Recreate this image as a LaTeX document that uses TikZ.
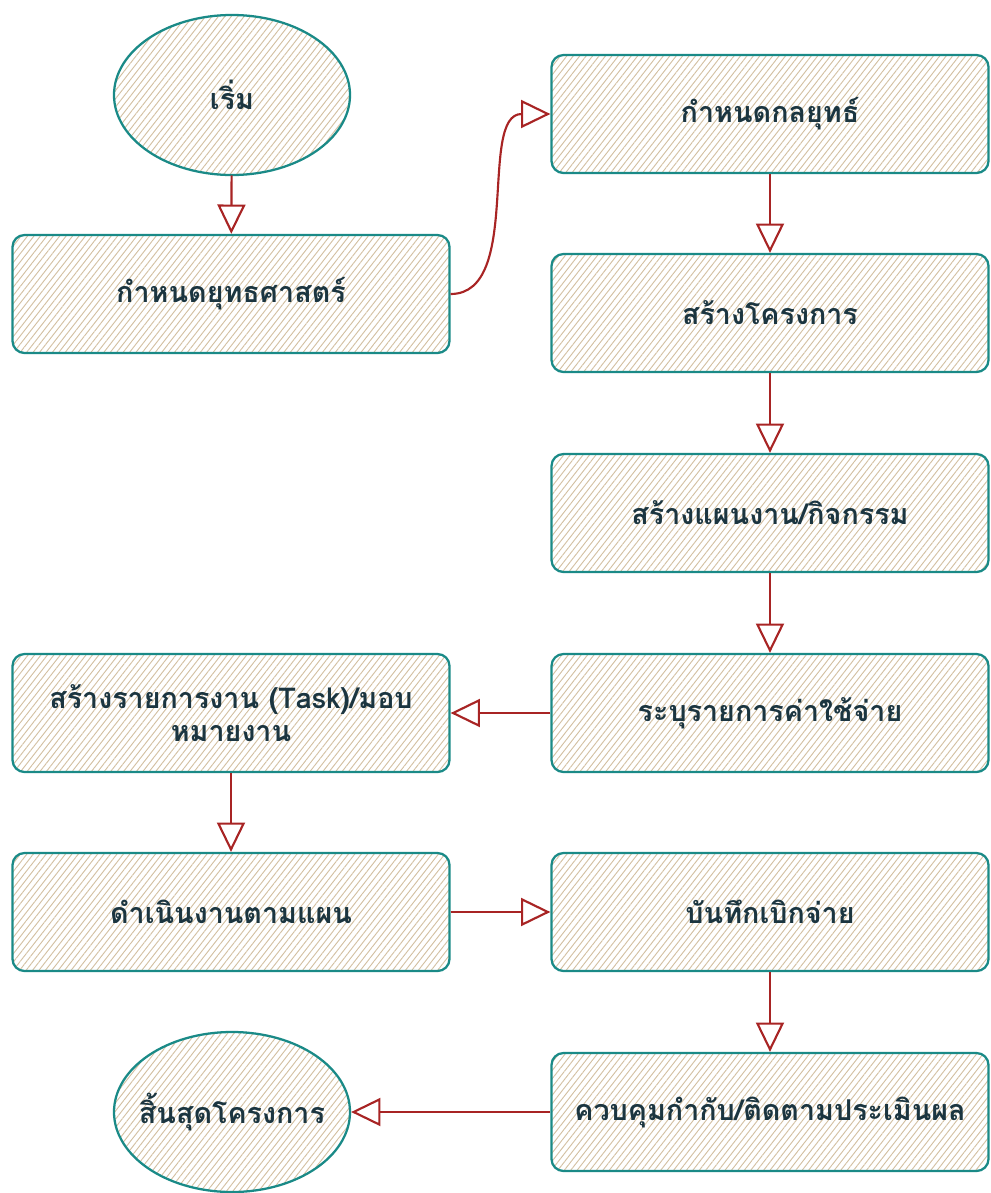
\documentclass[tikz,border=0pt]{standalone}
\usepackage{fontspec}
\newfontfamily\thaifont[Script=Thai]{Loma}
\usetikzlibrary{shapes.geometric,arrows.meta,patterns.meta}
\definecolor{teal}{HTML}{1A8A87}
\definecolor{hatch}{HTML}{D3C0A2}
\definecolor{arrowred}{HTML}{A82424}
\definecolor{txt}{HTML}{1B3540}
\tikzset{
  hatchfill/.style={pattern={Lines[angle=52,distance=3.8pt,line width=0.7pt]},pattern color=hatch},
  stepbox/.style={draw=teal,line width=1.7pt,rounded corners=9pt,hatchfill,
    minimum width=327.75pt,minimum height=88.5pt,align=center,
    font=\thaifont\bfseries\fontsize{21.5}{25}\selectfont,text=txt},
  terminal/.style={ellipse,draw=teal,line width=1.7pt,hatchfill,
    minimum width=177pt,minimum height=120pt,inner sep=0pt,
    font=\thaifont\bfseries\fontsize{21.5}{25}\selectfont,text=txt},
  flow/.style={draw=arrowred,line width=1.6pt,-{Triangle[open,length=22pt,width=21pt,line width=1.6pt]}}
}
\begin{document}
\begin{tikzpicture}[x=0.75pt,y=-0.75pt]
\useasboundingbox (0,0) rectangle (990,1193);
\node[terminal] (start) at (232,95) {\makebox[0pt][c]{เริ่ม}};
\node[stepbox] (a) at (231,294) {กำหนดยุทธศาสตร์};
\node[stepbox] (b) at (770,114) {กำหนดกลยุทธ์};
\node[stepbox] (c) at (770,313) {สร้างโครงการ};
\node[stepbox] (d) at (770,513) {สร้างแผนงาน/กิจกรรม};
\node[stepbox] (e) at (770,713) {ระบุรายการค่าใช้จ่าย};
\node[stepbox] (f) at (231,713) {สร้างรายการงาน (Task)/มอบ\\หมายงาน};
\node[stepbox] (g) at (231,912) {ดำเนินงานตามแผน};
\node[stepbox] (h) at (770,912) {บันทึกเบิกจ่าย};
\node[stepbox] (i) at (770,1112) {ควบคุมกำกับ/ติดตามประเมินผล};
\node[terminal] (end) at (232,1112) {\makebox[0pt][c]{สิ้นสุดโครงการ}};
\draw[flow] (start) -- (a);
\draw[flow] (a.east) to[out=0,in=180,looseness=0.9] (b.west);
\draw[flow] (b) -- (c);
\draw[flow] (c) -- (d);
\draw[flow] (d) -- (e);
\draw[flow] (e) -- (f);
\draw[flow] (f) -- (g);
\draw[flow] (g) -- (h);
\draw[flow] (h) -- (i);
\draw[flow] (i) -- (end);
\end{tikzpicture}
\end{document}
